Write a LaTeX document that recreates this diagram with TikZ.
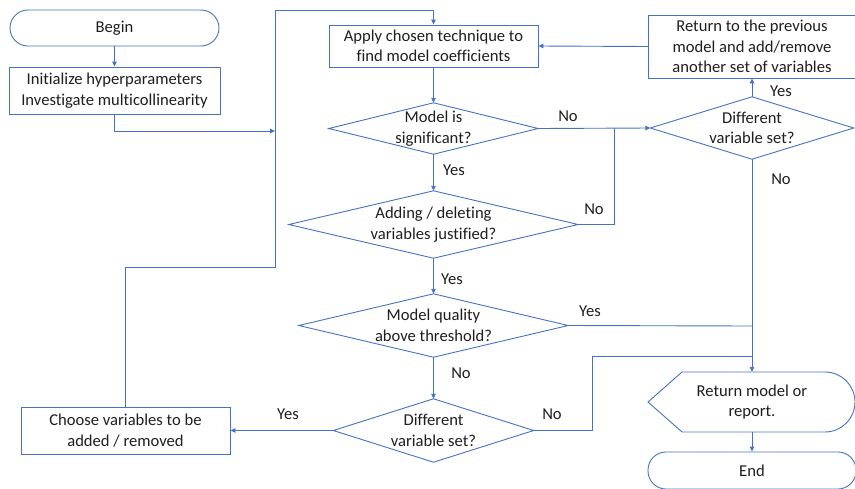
\documentclass[tikz,border=0pt]{standalone}
\usepackage{fontspec}
\setmainfont{Carlito}[Ligatures=NoCommon]
\usetikzlibrary{arrows.meta}
\definecolor{ln}{RGB}{68,114,196}
\definecolor{tx}{RGB}{30,30,30}
\begin{document}
\begin{tikzpicture}[x=1pt,y=-1pt,
  every node/.style={text=tx, font=\fontsize{16.6}{20.5}\selectfont, align=center, inner sep=0pt},
  conn/.style={draw=ln, line width=0.9pt},
  arr/.style={conn, -{Triangle[length=5pt,width=4.5pt]}},
  boxnode/.style={draw=ln, line width=0.9pt, rectangle},
  term/.style={draw=ln, line width=0.9pt, rectangle, rounded corners=18pt},
  dia/.style={rectangle, draw=none},
  lab/.style={}]
\useasboundingbox (0,0) rectangle (855,488);
% nodes
\node[term, minimum width=209pt, minimum height=36pt] (begin) at (114.5,28) {Begin};
\node[boxnode, minimum width=211pt, minimum height=47pt] (init) at (114.5,90.5) {Initialize hyperparameters\\Investigate multicollinearity};
\node[boxnode, minimum width=209pt, minimum height=42pt] (apply) at (433.5,46) {Apply chosen technique to\\find model coefficients};
\node[boxnode, minimum width=207pt, minimum height=63pt] (prev) at (752,46.5) {Return to the previous\\model and add/remove\\another set of variables};
\node[boxnode, minimum width=209pt, minimum height=47pt] (choose) at (125.5,430.5) {Choose variables to be\\added / removed};
\node[dia, minimum width=209pt, minimum height=51pt] (d1) at (433.5,128.5) {Model is\\significant?};
\node[dia, minimum width=289pt, minimum height=67pt] (d2) at (433.5,224.5) {Adding / deleting\\variables justified?};
\node[dia, minimum width=269pt, minimum height=63pt] (d3) at (433.5,325.5) {Model quality\\above threshold?};
\node[dia, minimum width=200pt, minimum height=63pt] (d4) at (433.5,430.5) {Different\\variable set?};
\node[dia, minimum width=203pt, minimum height=62pt] (dr) at (752,128) {Different\\variable set?};
\node[dia, minimum width=207pt, minimum height=60pt] (ret) at (752,402) {Return model or\\report.};
\node[term, minimum width=208pt, minimum height=37pt] (end) at (752,470.5) {End};
% diamond outlines
\foreach \d in {d1,d2,d3,d4,dr}
  \draw[conn] (\d.west) -- (\d.north) -- (\d.east) -- (\d.south) -- cycle;
% display shape
\draw[conn] (648,402) -- (682,372) -- (825,372) arc[start angle=-90, end angle=90, x radius=30pt, y radius=-30pt] -- (682,432) -- cycle;
% junction coordinates
\coordinate (jin) at (275,131);
\coordinate (jlow) at (275,267);
\coordinate (jtop) at (275,10);
\coordinate (j2) at (614,128);
\coordinate (j3) at (752,326);
\coordinate (j4a) at (592,356);
\coordinate (j4b) at (752,356);
% connectors
\draw[arr] (begin) -- (init);
\draw[arr] (init.south) |- (jin);
\draw[arr] (choose.north) |- (jlow) -- (jtop) -| (apply.north);
\draw[arr] (apply) -- (d1.north);
\draw[arr] (d1.east) -- (dr.west);
\draw[arr] (d1.south) -- (d2.north);
\draw[conn] (d2.east) -| (j2);
\draw[arr] (d2.south) -- (d3.north);
\draw[conn] (d3.east) -- (j3);
\draw[arr] (d3.south) -- (d4.north);
\draw[arr] (d4.west) -- (choose.east);
\draw[conn] (d4.east) -| (j4a) -- (j4b);
\draw[arr] (dr.north) -- (prev.south);
\draw[arr] (prev.west) -- (apply.east);
\draw[arr] (dr.south) -- (ret.north);
\draw[arr] (ret.south) -- (end.north);
% labels
\node[lab] (l1) at (568,116) {No};
\node[lab] (l2) at (454,170) {Yes};
\node[lab] (l3) at (594,209) {No};
\node[lab] (l4) at (452,279) {Yes};
\node[lab] (l5) at (590,311) {Yes};
\node[lab] (l6) at (461,373) {No};
\node[lab] (l7) at (288,414) {Yes};
\node[lab] (l8) at (552,414) {No};
\node[lab] (l9) at (781,91) {Yes};
\node[lab] (l10) at (781,179) {No};
\end{tikzpicture}
\end{document}
